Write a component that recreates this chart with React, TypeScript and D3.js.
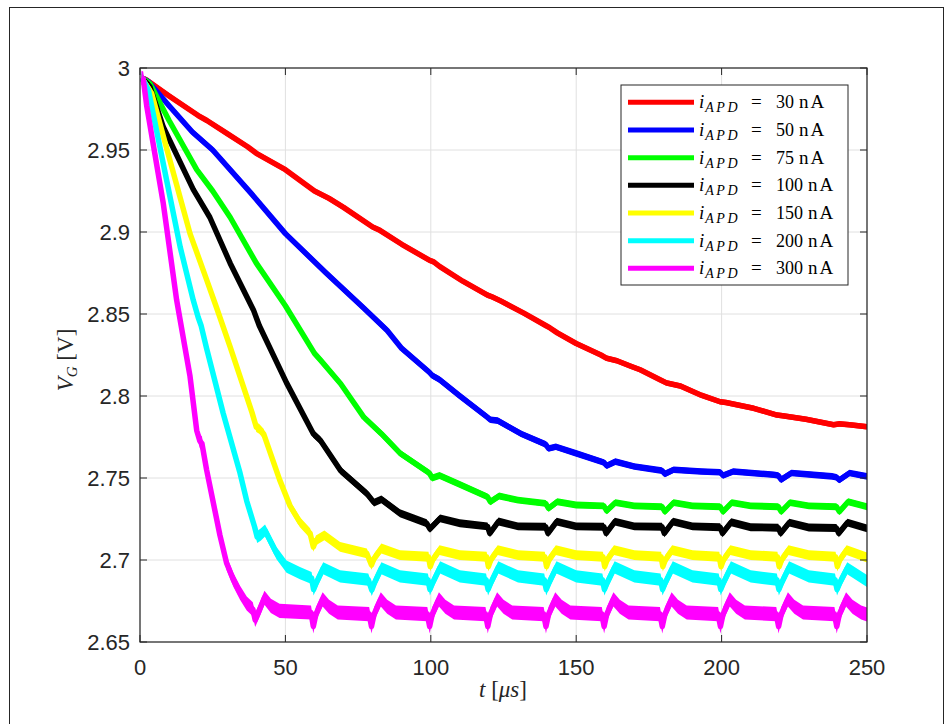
import React from 'react';
import * as d3 from 'd3';

const W = 952;
const H = 724;

const xTicks = [0, 50, 100, 150, 200, 250];
const xTickLabels = ['0', '50', '100', '150', '200', '250'];
const yTicks = [2.65, 2.7, 2.75, 2.8, 2.85, 2.9, 2.95, 3];
const yTickLabels = ['2.65', '2.7', '2.75', '2.8', '2.85', '2.9', '2.95', '3'];

const currents = ['30', '50', '75', '100', '150', '200', '300'];
const colors = ['#ff0000', '#0000ff', '#00ff00', '#000000', '#ffff00', '#00ffff', '#ff00ff'];
const ripple = [0.0017, 0.002, 0.0021, 0.0024, 0.003, 0.0037, 0.0043];

type P = [number, number];

const i30: P[] = [
  [0.5, 2.994], [2, 2.993], [10, 2.983], [20, 2.971], [23, 2.968], [30, 2.96], [37, 2.952], [40, 2.948],
  [50, 2.938], [60, 2.925], [65, 2.9205], [70, 2.915], [80, 2.903], [82.5, 2.901], [90, 2.8925],
  [99.5, 2.8828], [101, 2.8818], [103, 2.879], [111, 2.87], [119.5, 2.8615], [121, 2.8605], [124, 2.858],
  [132, 2.8505], [139.5, 2.843], [141, 2.8415], [143.5, 2.8385], [150, 2.832], [158.5, 2.825], [160.5, 2.823],
  [164, 2.8215], [169, 2.818], [172, 2.816], [179, 2.8098], [181, 2.808], [186, 2.806], [193, 2.8005],
  [199.5, 2.7965], [201.5, 2.796], [211, 2.7925], [219, 2.7884], [221, 2.788], [229, 2.7858],
  [238.5, 2.7825], [240.5, 2.783], [244, 2.7825], [250, 2.7813],
];

const i50: P[] = [
  [0.5, 2.994], [3, 2.9915], [10, 2.977], [18, 2.961], [25, 2.95], [38, 2.924], [50, 2.899], [64, 2.875],
  [77, 2.8535], [85, 2.84], [90, 2.829], [99.5, 2.8145], [100.5, 2.8125], [103, 2.81], [110, 2.8],
  [119.5, 2.787], [120.5, 2.7855], [123, 2.785], [131, 2.777], [139.5, 2.7705], [140.5, 2.768], [143, 2.769],
  [150, 2.765], [159.5, 2.7595], [160.5, 2.7575], [163.5, 2.76], [170, 2.757], [179.5, 2.7545], [180.5, 2.7525],
  [183.5, 2.755], [193, 2.754], [199.5, 2.7535], [200.5, 2.7515], [204, 2.754], [218, 2.752], [219.5, 2.7515],
  [220.5, 2.749], [224, 2.753], [238, 2.751], [239.5, 2.7505], [240.5, 2.7488], [244, 2.753], [250, 2.751],
];

const i75: P[] = [
  [0.5, 2.994], [3.4, 2.9905], [10, 2.968], [19.5, 2.938], [25, 2.925], [31, 2.909], [40, 2.881], [50, 2.855],
  [60, 2.826], [62, 2.822], [69, 2.8075], [77, 2.787], [80, 2.782], [83, 2.777], [89.5, 2.765],
  [99.5, 2.753], [100.5, 2.75], [103, 2.7515], [110, 2.746],
  [119.5, 2.7385], [120.5, 2.7355], [123.5, 2.739], [130, 2.7365],
  [139.5, 2.7345], [140.5, 2.7315], [143.5, 2.7355], [150, 2.7335],
  [159.5, 2.733], [160.5, 2.73], [163.5, 2.735], [170, 2.733],
  [179.5, 2.7325], [180.5, 2.7295], [183.5, 2.735], [190, 2.733],
  [199.5, 2.7325], [200.5, 2.7295], [203.5, 2.735], [210, 2.733],
  [219.5, 2.7325], [220.5, 2.7295], [223.5, 2.735], [230, 2.733],
  [239.5, 2.7325], [240.5, 2.7295], [243.5, 2.7355], [250, 2.7325],
];

const i100: P[] = [
  [0.5, 2.994], [3.4, 2.9886], [8, 2.964], [18.3, 2.926], [24, 2.909], [31, 2.881], [39, 2.8525], [41, 2.843],
  [50.4, 2.808], [59.6, 2.777], [62, 2.773], [69, 2.7545], [78, 2.7405], [79.8, 2.7365], [80.5, 2.735],
  [83, 2.737], [89.4, 2.7285], [98.6, 2.7224], [99.7, 2.719], [103.2, 2.7254], [110, 2.7224],
  [119.5, 2.7205], [120.3, 2.7163], [123.3, 2.7235], [130, 2.7205],
  [139.5, 2.7203], [140.3, 2.7163], [143.3, 2.7234], [150, 2.7205],
  [159.5, 2.7203], [160.3, 2.7163], [163.3, 2.7234], [170, 2.7205],
  [179.5, 2.7203], [180.3, 2.7163], [183.3, 2.7234], [190, 2.7205],
  [199.5, 2.72], [200.3, 2.7163], [203.3, 2.723], [210, 2.72],
  [219.5, 2.7197], [220.3, 2.7163], [223.3, 2.7228], [230, 2.7198],
  [239.5, 2.7195], [240.3, 2.7163], [243.3, 2.7228], [250, 2.7193],
];

const i150: P[] = [
  [0.5, 2.994], [4, 2.9846], [8, 2.9585], [17.2, 2.899], [22.9, 2.871], [26.4, 2.8535], [31, 2.83],
  [38.5, 2.79], [40, 2.781], [41, 2.78], [42.5, 2.777], [48, 2.749], [51.6, 2.733], [55, 2.723],
  [58.5, 2.7163], [59.6, 2.708], [60.5, 2.712], [63.4, 2.715], [68.8, 2.708],
  [78, 2.704], [79.6, 2.697], [80.5, 2.701], [83, 2.707], [89.4, 2.703],
  [99.2, 2.702], [99.8, 2.696], [100.6, 2.7], [103, 2.706], [110, 2.703],
  [119.2, 2.702], [119.8, 2.696], [120.6, 2.7], [123, 2.706], [130, 2.703],
  [139.2, 2.702], [139.8, 2.696], [140.6, 2.7], [143, 2.706], [150, 2.703],
  [159.2, 2.702], [159.8, 2.696], [160.6, 2.7], [163, 2.706], [170, 2.703],
  [179.2, 2.702], [179.8, 2.696], [180.6, 2.7], [183, 2.706], [190, 2.703],
  [199.2, 2.702], [199.8, 2.696], [200.6, 2.7], [203, 2.706], [210, 2.703],
  [219.2, 2.702], [219.8, 2.696], [220.6, 2.7], [223, 2.706], [230, 2.703],
  [239.2, 2.702], [239.8, 2.696], [240.6, 2.7], [243, 2.706], [250, 2.7015],
];

const i200: P[] = [
  [0.5, 2.994], [2.9, 2.9866], [8, 2.9417], [13.8, 2.891], [18.3, 2.8585], [20, 2.848], [21, 2.843],
  [22.9, 2.829], [28.6, 2.7895], [34.4, 2.753], [36.7, 2.736], [39.4, 2.7203], [40.3, 2.714],
  [41.5, 2.7155], [43, 2.718], [47, 2.704], [50.4, 2.696], [55, 2.692],
  [59, 2.689], [59.7, 2.682], [60.6, 2.686], [63, 2.695], [68.8, 2.69],
  [78.5, 2.688], [79.7, 2.6817], [80.6, 2.686], [83, 2.695], [89.4, 2.69],
  [99, 2.688], [99.7, 2.682], [100.6, 2.686], [103.2, 2.6955], [110, 2.69],
  [119, 2.688], [119.7, 2.682], [120.6, 2.686], [123.2, 2.6955], [130, 2.69],
  [139, 2.688], [139.7, 2.682], [140.6, 2.686], [143.2, 2.6955], [150, 2.69],
  [159, 2.688], [159.7, 2.682], [160.6, 2.686], [163.2, 2.6955], [170, 2.69],
  [179, 2.688], [179.7, 2.682], [180.6, 2.686], [183.2, 2.6955], [190, 2.69],
  [199, 2.688], [199.7, 2.682], [200.6, 2.686], [203.2, 2.6955], [210, 2.69],
  [219, 2.688], [219.7, 2.682], [220.6, 2.686], [223.2, 2.6955], [230, 2.69],
  [239, 2.688], [239.7, 2.682], [240.6, 2.686], [243.2, 2.695], [250, 2.6872],
];

const i300: P[] = [
  [0.5, 2.994], [1.1, 2.9935], [2.3, 2.977], [8, 2.9175], [12.6, 2.8585], [17.2, 2.812], [19.5, 2.779],
  [20.6, 2.7725], [21.3, 2.771], [22.9, 2.755], [25.2, 2.735], [27.5, 2.715], [29.8, 2.698], [32.1, 2.688],
  [34.4, 2.68], [36.7, 2.6735], [38.8, 2.67], [39.6, 2.6635], [40.5, 2.667], [42.8, 2.677], [45, 2.672],
  [48, 2.669],
  [58.8, 2.668], [59.6, 2.6595], [60.5, 2.667], [62.8, 2.676], [65, 2.6715], [68, 2.668],
  [78.8, 2.667], [79.6, 2.6595], [80.5, 2.667], [82.8, 2.676], [85, 2.6715], [88, 2.668],
  [98.8, 2.667], [99.6, 2.6595], [100.5, 2.667], [102.8, 2.676], [105, 2.6715], [108, 2.668],
  [118.8, 2.667], [119.6, 2.6595], [120.5, 2.667], [122.8, 2.676], [125, 2.6715], [128, 2.668],
  [138.8, 2.667], [139.6, 2.6595], [140.5, 2.667], [142.8, 2.676], [145, 2.6715], [148, 2.668],
  [158.8, 2.667], [159.6, 2.6595], [160.5, 2.667], [162.8, 2.676], [165, 2.6715], [168, 2.668],
  [178.8, 2.667], [179.6, 2.6595], [180.5, 2.667], [182.8, 2.676], [185, 2.6715], [188, 2.668],
  [198.8, 2.667], [199.6, 2.6595], [200.5, 2.667], [202.8, 2.676], [205, 2.6715], [208, 2.668],
  [218.8, 2.667], [219.6, 2.6595], [220.5, 2.667], [222.8, 2.676], [225, 2.6715], [228, 2.668],
  [238.8, 2.667], [239.6, 2.6595], [240.5, 2.667], [242.8, 2.676], [245, 2.6715], [248, 2.668],
  [250, 2.6668],
];

const series: P[][] = [i30, i50, i75, i100, i150, i200, i300];

const PL = 140, PR = 867, PT = 68, PB = 642;
const AX = '#262626';
const GRID = '#e0e0e0';
const SANS = '"Liberation Sans", Arial, Helvetica, sans-serif';
const SERIF = '"Liberation Serif", "Times New Roman", serif';

export default function App() {
  const x = d3.scaleLinear().domain([0, 250]).range([PL, PR]);
  const y = d3.scaleLinear().domain([2.65, 3]).range([PB, PT]);
  const line = d3.line<P>().x(d => x(d[0])).y(d => y(d[1]));
  const band = (r: number) =>
    d3.area<P>().x(d => x(d[0])).y0(d => y(d[1] - r)).y1(d => y(d[1] + r));

  const legX = 621, legY = 85, legW = 227, legH = 200;
  const rowH = 27.67;

  return (
    <svg width={W} height={H} style={{ position: 'absolute', left: 0, top: 0, background: '#fff' }}>
      <rect x={0} y={0} width={W} height={H} fill="#fff" />
      <rect x={9.5} y={7.5} width={934} height={730} fill="none" stroke={AX} strokeWidth={1} />
      <defs>
        <clipPath id="plotclip">
          <rect x={PL} y={PT} width={PR - PL} height={PB - PT} />
        </clipPath>
      </defs>
      {xTicks.map(t => (
        <line key={'gx' + t} x1={x(t)} x2={x(t)} y1={PT} y2={PB} stroke={GRID} strokeWidth={1} />
      ))}
      {yTicks.map(t => (
        <line key={'gy' + t} x1={PL} x2={PR} y1={y(t)} y2={y(t)} stroke={GRID} strokeWidth={1} />
      ))}
      <g clipPath="url(#plotclip)">
        {series.map((s, i) => (
          <g key={'s' + i}>
            <path d={band(ripple[i])(s) || ''} fill={colors[i]} stroke="none" />
            <path d={line(s) || ''} fill="none" stroke={colors[i]} strokeWidth={5.5} strokeLinejoin="round" strokeLinecap="butt" />
          </g>
        ))}
      </g>
      <rect x={PL} y={PT} width={PR - PL} height={PB - PT} fill="none" stroke={AX} strokeWidth={1.2} />
      {xTicks.map(t => (
        <g key={'tx' + t}>
          <line x1={x(t)} x2={x(t)} y1={PB} y2={PB - 7} stroke={AX} />
          <line x1={x(t)} x2={x(t)} y1={PT} y2={PT + 7} stroke={AX} />
        </g>
      ))}
      {yTicks.map(t => (
        <g key={'ty' + t}>
          <line x1={PL} x2={PL + 7} y1={y(t)} y2={y(t)} stroke={AX} />
          <line x1={PR} x2={PR - 7} y1={y(t)} y2={y(t)} stroke={AX} />
        </g>
      ))}
      {xTicks.map((t, i) => (
        <text key={'lx' + t} x={x(t)} y={675} textAnchor="middle" fontFamily={SANS} fontSize={22} fill={AX}>
          {xTickLabels[i]}
        </text>
      ))}
      {yTicks.map((t, i) => (
        <text key={'ly' + t} x={130} y={y(t) + 8} textAnchor="end" fontFamily={SANS} fontSize={22} fill={AX}>
          {yTickLabels[i]}
        </text>
      ))}
      <text x={503} y={697} textAnchor="middle" fontFamily={SERIF} fontSize={23} fill={AX}>
        <tspan fontStyle="italic">t</tspan>
        <tspan> [</tspan>
        <tspan fontStyle="italic">μs</tspan>
        <tspan>]</tspan>
      </text>
      <text transform="translate(73,360) rotate(-90)" textAnchor="middle" fontFamily={SERIF} fontSize={23} fill={AX}>
        <tspan fontStyle="italic">V</tspan>
        <tspan fontStyle="italic" fontSize={15} dy={4}>G</tspan>
        <tspan dy={-4}> [V]</tspan>
      </text>
      <rect x={legX} y={legY} width={legW} height={legH} fill="#fff" stroke={AX} strokeWidth={1} />
      {currents.map((c, i) => {
        const cy = 102.3 + i * rowH;
        return (
          <g key={'lg' + c}>
            <line x1={628} x2={694} y1={cy} y2={cy} stroke={colors[i]} strokeWidth={5} />
            <text x={699} y={cy + 6} fontFamily={SERIF} fontSize={19} fill="#000">
              <tspan fontStyle="italic">i</tspan>
              <tspan fontStyle="italic" fontSize={14} dy={4} dx={1} letterSpacing={2.5}>APD</tspan>
            </text>
            <text x={751} y={cy + 6} fontFamily={SERIF} fontSize={19} fill="#000">=</text>
            <text x={776} y={cy + 6} fontFamily={SERIF} fontSize={18} fill="#000">
              <tspan>{c}</tspan>
              <tspan dx={5} fontSize={19} letterSpacing={2}>nA</tspan>
            </text>
          </g>
        );
      })}
    </svg>
  );
}
